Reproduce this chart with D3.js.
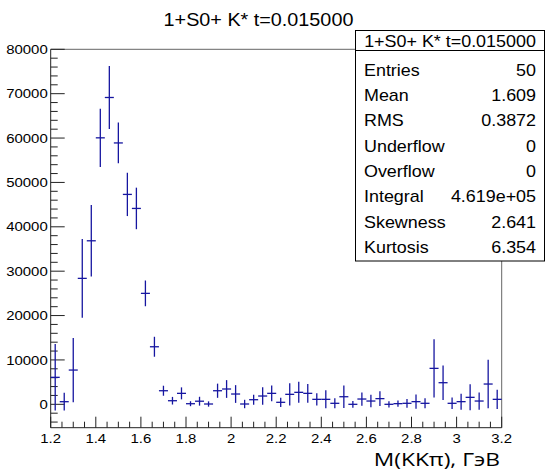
<!DOCTYPE html>
<html>
<head>
<meta charset="utf-8">
<script src="https://cdn.jsdelivr.net/npm/d3@7"></script>
<style>
  body { margin: 0; background: #fff; }
  svg text { font-family: "Liberation Sans", Arial, sans-serif; fill: #000; }
</style>
</head>
<body>
<svg id="chart" width="554" height="471"></svg>
<script>
// bin centres (50 bins, width 0.04, 1.2 .. 3.2)
const binLow = 1.2, binWidth = 0.04;
const counts = [6080, 590, 7720, 28380, 36850, 60050, 69140, 58900, 47300, 44140,
                25000, 12970, 3060, 810, 2470, 135, 700, 70, 3060, 3450,
                2320, 70, 1040, 1870, 2470, 450, 2250, 2700, 2470, 1120,
                1120, 225, 1710, 0, 1190, 740, 1280, 0, 150, 225,
                600, 225, 8100, 4870, 225, 600, 1570, 740, 4570, 1120];
const errors = [7500, 2000, 7250, 8900, 8060, 6550, 7100, 4600, 4880, 4680,
                2900, 2250, 1130, 860, 1350, 560, 1000, 600, 1600, 2000,
                2000, 950, 1130, 1950, 1760, 1050, 2500, 2360, 2100, 1390,
                2030, 1130, 2550, 750, 1500, 1390, 1650, 700, 700, 1000,
                1600, 1130, 6570, 3870, 1300, 1800, 2930, 1950, 5480, 2180];

const xTicks = [1.2, 1.4, 1.6, 1.8, 2, 2.2, 2.4, 2.6, 2.8, 3, 3.2];
const yTicks = [0, 10000, 20000, 30000, 40000, 50000, 60000, 70000, 80000];

const title = "1+S0+ K* t=0.015000";
const xTitle = "M(KKπ), ГэВ";
const statsRows = [
  ["Entries", "50"],
  ["Mean", "1.609"],
  ["RMS", "0.3872"],
  ["Underflow", "0"],
  ["Overflow", "0"],
  ["Integral", "4.619e+05"],
  ["Skewness", "2.641"],
  ["Kurtosis", "6.354"]
];

const svg = d3.select("#chart");
const pLeft = 50.7, pRight = 501.7, pTop = 49.3, pBottom = 427.7;

const x = d3.scaleLinear().domain([1.2, 3.2]).range([pLeft, pRight]);
const y = d3.scaleLinear().domain([-5270, 80000]).range([pBottom, pTop]);

// stretched text helper (picture is wider than tall)
function label(g, tx, ty, str, size, anchor, sx, family) {
  return g.append("text")
    .attr("transform", "translate(" + tx + "," + ty + ") scale(" + sx + ",1)")
    .attr("font-size", size + "px")
    .attr("text-anchor", anchor)
    .style("font-family", family || null)
    .text(str);
}

// frame
svg.append("line").attr("x1", pLeft).attr("x2", pRight).attr("y1", pTop).attr("y2", pTop)
  .attr("stroke", "#666").attr("stroke-width", 1);
svg.append("line").attr("x1", pRight).attr("x2", pRight).attr("y1", pTop).attr("y2", pBottom)
  .attr("stroke", "#666").attr("stroke-width", 1);

// y axis
const yAxis = svg.append("g");
yAxis.append("line").attr("x1", pLeft).attr("x2", pLeft).attr("y1", pTop).attr("y2", pBottom)
  .attr("stroke", "#222");
d3.range(-4000, 80001, 2000).forEach(v => {
  const major = v % 10000 === 0;
  yAxis.append("line").attr("x1", pLeft).attr("x2", pLeft + (major ? 14 : 7))
    .attr("y1", y(v)).attr("y2", y(v)).attr("stroke", "#222");
});
yTicks.forEach(v => {
  label(yAxis, pLeft - 3, y(v) + 4.6, v, 13, "end", 1.15);
});

// x axis
const xAxis = svg.append("g");
xAxis.append("line").attr("x1", pLeft).attr("x2", pRight).attr("y1", pBottom).attr("y2", pBottom)
  .attr("stroke", "#222");
d3.range(0, 41).forEach(i => {
  const v = 1.2 + i * 0.05;
  const major = i % 4 === 0;
  xAxis.append("line").attr("x1", x(v)).attr("x2", x(v))
    .attr("y1", pBottom).attr("y2", pBottom - (major ? 11 : 6)).attr("stroke", "#222");
});
xTicks.forEach(v => {
  label(xAxis, x(v), 443, v, 13, "middle", 1.15);
});

// histogram error bars
const bins = counts.map((c, i) => ({
  lo: binLow + i * binWidth,
  hi: binLow + (i + 1) * binWidth,
  mid: binLow + (i + 0.5) * binWidth,
  c: c, e: errors[i]
}));
const marks = svg.append("g").attr("stroke", "#1616a0").attr("stroke-width", 1.3);
marks.selectAll("line.v").data(bins).enter().append("line")
  .attr("class", "v")
  .attr("x1", d => x(d.mid)).attr("x2", d => x(d.mid))
  .attr("y1", d => y(d.c - d.e)).attr("y2", d => y(d.c + d.e));
marks.selectAll("line.h").data(bins).enter().append("line")
  .attr("class", "h")
  .attr("x1", d => x(d.lo)).attr("x2", d => x(d.hi))
  .attr("y1", d => y(d.c)).attr("y2", d => y(d.c));

// title
label(svg, 258.5, 26, title, 18, "middle", 1.1);

// x axis title
label(svg, 500, 466, xTitle, 19, "end", 1.2, "'Open Sans', sans-serif");

// stats box
const box = svg.append("g");
box.append("rect").attr("x", 355.5).attr("y", 30.5).attr("width", 189).attr("height", 230.5)
  .attr("fill", "#fff").attr("stroke", "#000").attr("stroke-width", 1);
box.append("line").attr("x1", 355.5).attr("x2", 544.5).attr("y1", 50.5).attr("y2", 50.5)
  .attr("stroke", "#000");
label(box, 450, 46.5, title, 16, "middle", 1.12);
statsRows.forEach((r, i) => {
  const ty = 75.5 + i * 25.36;
  label(box, 364, ty, r[0], 16, "start", 1.12);
  label(box, 536, ty, r[1], 16, "end", 1.12);
});
</script>
</body>
</html>
